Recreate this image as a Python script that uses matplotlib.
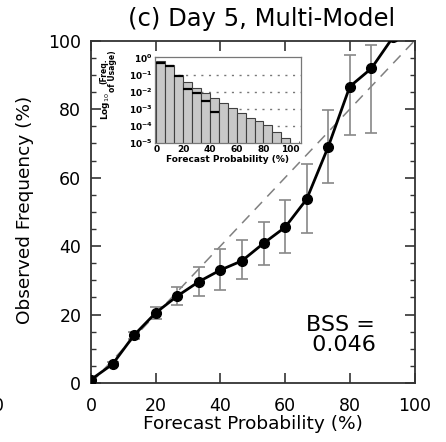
import matplotlib
matplotlib.use("Agg")
import matplotlib.pyplot as plt
from matplotlib.ticker import MultipleLocator, FixedLocator
import numpy as np

plt.rcParams['font.family'] = ['DejaVu Sans']

# ---- data ----
forecast_prob = [0, 6.67, 13.33, 20, 26.67, 33.33, 40, 46.67, 53.33, 60, 66.67, 73.33, 80, 86.67, 93.33]
observed_freq = [1.0, 5.5, 14.0, 20.5, 25.4, 29.6, 33.0, 35.7, 40.8, 45.5, 53.7, 69.0, 86.6, 91.9, 101.0]
err_lower = [1.0, 5.0, 13.0, 18.6, 22.8, 25.5, 27.2, 30.3, 34.4, 38.1, 43.7, 58.3, 72.4, 73.1, 101.0]
err_upper = [1.0, 6.0, 15.0, 22.3, 28.1, 33.8, 39.2, 41.8, 47.1, 53.5, 64.1, 79.8, 95.8, 98.8, 101.0]

bin_left = [0, 6.67, 13.33, 20, 26.67, 33.33, 40, 46.67, 53.33, 60, 66.67, 73.33, 80, 86.67, 93.33]
usage_log10 = [-0.20, -0.42, -1.05, -1.45, -1.77, -2.06, -2.35, -2.64, -2.97, -3.26, -3.51, -3.68, -3.96, -4.33, -4.71]
usage2_log10 = [-0.33, -0.50, -1.07, -1.86, -2.10, -2.54, -3.16, None, None, None, None, None, None, None, None]

bss_text = "BSS =\n 0.046"
title = "(c) Day 5, Multi-Model"

W, H = 446, 442
fig = plt.figure(figsize=(W/100, H/100), dpi=100)

ax = fig.add_axes([91/W, 59/H, 323.5/W, 342.3/H])
ax.set_xlim(0, 100)
ax.set_ylim(0, 100)

# diagonal
ax.plot([0, 100], [0, 100], ls=(0, (7, 5)), color='#808080', lw=1.1, zorder=1)

x = np.array(forecast_prob)
y = np.array(observed_freq)
lo = y - np.array(err_lower)
hi = np.array(err_upper) - y
ax.errorbar(x, y, yerr=[lo, hi], fmt='none', ecolor='#888888', elinewidth=1.2,
            capsize=4, capthick=1.2, zorder=2)
ax.plot(x, y, '-', color='black', lw=2.0, marker='o', ms=7, zorder=3)

ax.xaxis.set_major_locator(MultipleLocator(20))
ax.yaxis.set_major_locator(MultipleLocator(20))
ax.yaxis.set_minor_locator(MultipleLocator(5))
ax.tick_params(which='both', direction='in', top=True, right=True, color='#333333')
ax.tick_params(which='major', length=7, width=1.2, labelsize=12.5)
ax.tick_params(which='minor', length=3.5, width=1.0)
ax.tick_params(axis='x', pad=10)
ax.tick_params(axis='y', pad=7)
for s in ax.spines.values():
    s.set_linewidth(1.3)
    s.set_color('#333333')

ax.set_xlabel("Forecast Probability (%)", fontsize=13.3, labelpad=0)
fig.text(25/W, 1 - 210/H, "Observed Frequency (%)", rotation=90, fontsize=13.3,
         ha='center', va='center')
fig.text(262/W, 1 - 19/H, title, fontsize=17.5, ha='center', va='center')
ax.text(0.77, 0.14, bss_text, transform=ax.transAxes, fontsize=16,
        ha='center', va='center', linespacing=1.05)

# clipped tick label from neighbouring panel
fig.text(4/W, 1 - 406/H, "0", fontsize=12.5, ha='right', va='center')

# ---- inset ----
ins = fig.add_axes([155/W, (H - 143.3)/H, 146/W, 86/H])
ins.set_yscale('log')
ins.set_ylim(1e-5, 1e0)
ins.set_xlim(-1, 108)
heights = 10 ** np.array(usage_log10)
ins.bar(bin_left, heights, width=6.67, align='edge', color='#c8c8c8',
        edgecolor='#404040', linewidth=0.8, zorder=2)
for bl, v in zip(bin_left, usage2_log10):
    if v is not None:
        ins.plot([bl, bl + 6.67], [10 ** v, 10 ** v], color='black', lw=1.6,
                 solid_capstyle='butt', zorder=3)
for d in [1e-1, 1e-2, 1e-3, 1e-4]:
    ins.axhline(d, color='#777777', ls=(0, (1.5, 4)), lw=1.0, zorder=1)
ins.xaxis.set_major_locator(MultipleLocator(20))
ins.xaxis.set_minor_locator(MultipleLocator(6.67))
ins.yaxis.set_major_locator(FixedLocator([1e-5, 1e-4, 1e-3, 1e-2, 1e-1, 1e0]))
ins.yaxis.set_minor_locator(FixedLocator([]))
ins.set_yticklabels([r'$\mathbf{10^{-5}}$', r'$\mathbf{10^{-4}}$', r'$\mathbf{10^{-3}}$',
                     r'$\mathbf{10^{-2}}$', r'$\mathbf{10^{-1}}$', r'$\mathbf{10^{0}}$'])
ins.tick_params(which='both', direction='in', labelsize=6.5, pad=1.5, color='#555555')
ins.tick_params(which='major', length=3, width=0.8)
ins.tick_params(which='minor', length=1.5, width=0.6)
for lab in ins.get_xticklabels():
    lab.set_fontweight('bold')
for s in ins.spines.values():
    s.set_linewidth(0.9)
    s.set_color('#777777')
ins.set_xlabel("Forecast Probability (%)", fontsize=6.5, fontweight='bold', labelpad=0.5)

fig.text(105/W, 1 - 106/H, r"Log$_{10}$", rotation=90, fontsize=6.5, fontweight='bold',
         ha='center', va='center')
fig.text(108/W, 1 - 71/H, "(Freq.\nof Usage)", rotation=90, fontsize=5.5,
         fontweight='bold', ha='center', va='center', linespacing=0.9)

fig.savefig("out.png", dpi=100)
